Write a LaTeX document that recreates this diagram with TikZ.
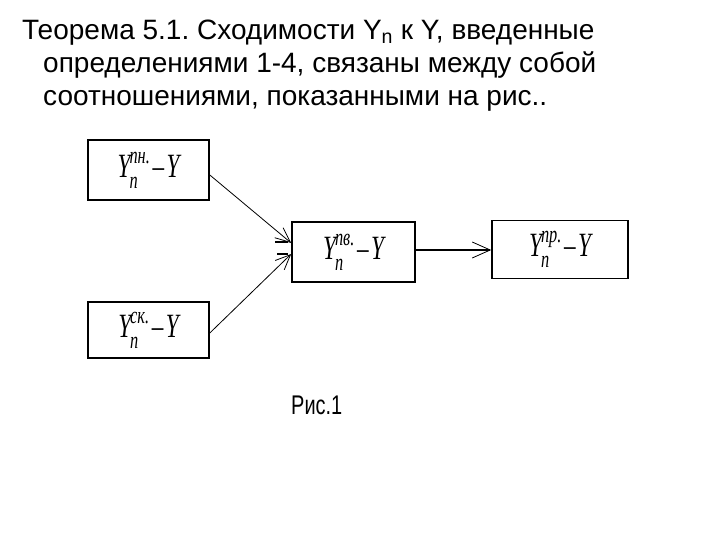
\documentclass[tikz,border=0pt]{standalone}
\usepackage{graphicx}
\usepackage{fontspec}
\setmainfont{Liberation Sans}
\newfontfamily\serifcyr{Liberation Serif}
\usetikzlibrary{arrows.meta}
\frenchspacing
\newcommand\boxexpr[1]{\scalebox{0.68}[1]{\serifcyr\itshape\fontsize{34}{40}\selectfont
  Y\kern-0.04em\makebox[0pt][l]{\raisebox{-0.32em}{\fontsize{24}{24}\selectfont n}}\raisebox{0.42em}{\fontsize{24}{24}\selectfont #1}\kern0.12em–\kern0.1emY}}
\begin{document}
\begin{tikzpicture}[x=1pt,y=-1pt,
  box/.style={draw, line width=1.6pt, inner sep=0pt},
  thinarrow/.style={line width=0.8pt, -{Straight Barb[length=15pt,width=13pt]}},
  titletext/.style={anchor=base west, inner sep=0pt, font=\fontsize{28}{34}\selectfont}]
\useasboundingbox (0,0) rectangle (720,540);
\fill[white] (0,0) rectangle (720,540);
\node[titletext] (t1) at (22,40) {Теорема 5.1. Сходимости Y\textsubscript{n} к Y, введенные};
\node[titletext] (t2) at (43,73) {определениями 1-4, связаны между собой};
\node[titletext] (t3) at (43,106) {соотношениями, показанными на рис..};
\node[box, minimum width=121pt, minimum height=60pt] (b1) at (148.5,170) {\boxexpr{пн.}};
\node[box, minimum width=121pt, minimum height=56pt] (b2) at (148.5,330) {\boxexpr{ск.}};
\node[box, minimum width=123pt, minimum height=60pt] (b3) at (353.5,252) {\boxexpr{пв.}};
\node[box, minimum width=136pt, minimum height=58pt] (b4) at (560,249.5) {\boxexpr{пр.}};
\draw[thinarrow] ([yshift=-5pt]b1.east) -- ([yshift=9pt]b3.west);
\draw[thinarrow] ([yshift=-3pt]b2.east) -- ([yshift=-2pt]b3.west);
\draw[line width=1.6pt] ([xshift=-16pt,yshift=10pt]b3.west) -- ([xshift=-3pt,yshift=10pt]b3.west);
\draw[line width=1.6pt] ([xshift=-14pt,yshift=-2pt]b3.west) -- ([xshift=-3pt,yshift=-2pt]b3.west);
\draw[line width=2.4pt, -{Straight Barb[length=18pt,width=16pt,line width=0.8pt]}] ([yshift=2pt]b3.east) -- ([yshift=-0.5pt]b4.west);
\node[anchor=base west, inner sep=0pt, font=\fontsize{27}{32}\selectfont] (cap) at (291,414) {\scalebox{0.74}[1]{Рис.1}};
\end{tikzpicture}
\end{document}
